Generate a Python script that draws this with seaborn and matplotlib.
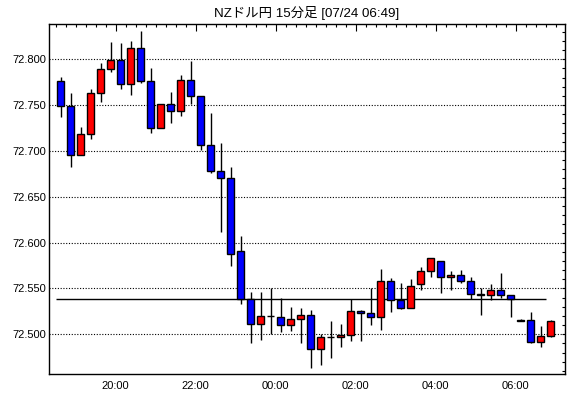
import matplotlib
matplotlib.use("Agg")
import matplotlib.pyplot as plt
import matplotlib.dates as mdates
from matplotlib.ticker import MultipleLocator, FormatStrFormatter
import seaborn as sns
import numpy as np
import pandas as pd

title = "NZドル円 15分足 [07/24 06:49]"
first_bar = "2024-07-23 18:30"
bar_minutes = 15

opens = [72.776, 72.749, 72.696, 72.719, 72.763, 72.789, 72.799, 72.773, 72.812, 72.776,
         72.725, 72.751, 72.744, 72.777, 72.760, 72.707, 72.678, 72.670, 72.591, 72.538,
         72.511, 72.520, 72.519, 72.510, 72.517, 72.521, 72.484, 72.497, 72.497, 72.499,
         72.525, 72.523, 72.519, 72.558, 72.537, 72.529, 72.555, 72.569, 72.580, 72.563,
         72.565, 72.558, 72.544, 72.543, 72.548, 72.543, 72.516, 72.516, 72.492, 72.498]
highs = [72.781, 72.763, 72.726, 72.768, 72.796, 72.819, 72.818, 72.820, 72.831, 72.791,
         72.751, 72.764, 72.783, 72.798, 72.760, 72.741, 72.709, 72.682, 72.607, 72.546,
         72.546, 72.550, 72.540, 72.530, 72.529, 72.527, 72.500, 72.515, 72.511, 72.539,
         72.527, 72.550, 72.571, 72.561, 72.556, 72.560, 72.573, 72.583, 72.580, 72.569,
         72.570, 72.563, 72.550, 72.555, 72.567, 72.543, 72.517, 72.524, 72.509, 72.516]
lows = [72.737, 72.683, 72.696, 72.713, 72.753, 72.786, 72.768, 72.761, 72.774, 72.720,
        72.725, 72.731, 72.738, 72.751, 72.701, 72.676, 72.612, 72.574, 72.533, 72.490,
        72.494, 72.500, 72.502, 72.504, 72.490, 72.463, 72.467, 72.474, 72.486, 72.493,
        72.493, 72.510, 72.505, 72.524, 72.528, 72.529, 72.548, 72.562, 72.545, 72.548,
        72.556, 72.538, 72.521, 72.537, 72.540, 72.519, 72.514, 72.490, 72.486, 72.497]
closes = [72.749, 72.696, 72.719, 72.763, 72.789, 72.799, 72.773, 72.812, 72.776, 72.725,
          72.751, 72.744, 72.777, 72.760, 72.707, 72.678, 72.670, 72.588, 72.538, 72.511,
          72.520, 72.520, 72.510, 72.517, 72.521, 72.484, 72.497, 72.497, 72.499, 72.525,
          72.523, 72.519, 72.558, 72.537, 72.529, 72.553, 72.569, 72.583, 72.563, 72.565,
          72.558, 72.544, 72.543, 72.548, 72.543, 72.538, 72.515, 72.492, 72.498, 72.514]
ref_level = 72.538
up_color = "#ff0000"
down_color = "#0000ff"

sns.set_theme(style="white")
plt.rcParams["font.family"] = ["Liberation Sans", "Noto Sans CJK JP", "DejaVu Sans"]

starts = pd.date_range(first_bar, periods=len(opens), freq=f"{bar_minutes}min")
df = pd.DataFrame({"start": starts, "open": opens, "high": highs, "low": lows, "close": closes})
df["mid"] = df["start"] + pd.Timedelta(minutes=bar_minutes / 2)
df["up"] = df["close"] >= df["open"]

fig = plt.figure(figsize=(5.70, 3.98), dpi=100)
ax = fig.add_axes([49.3 / 570, 1 - 374.3 / 398, (565 - 49.3) / 570, (374.3 - 24.3) / 398])

xm = mdates.date2num(df["mid"])
bar_w = bar_minutes / 1440 * 0.68

# grid (dotted)
for yv in np.arange(72.50, 72.801, 0.05):
    ax.axhline(yv, color="black", lw=0.8, ls=(0, (1, 1.5)), zorder=1)

# reference level
ax.hlines(ref_level, mdates.date2num(df["start"].iloc[0]), mdates.date2num(df["start"].iloc[-1]),
          color="black", lw=1.0, zorder=2)

# wicks
ax.vlines(xm, df["low"], df["high"], color="black", lw=1.0, zorder=3)
# bodies
bottoms = np.minimum(df["open"], df["close"])
heights = np.maximum(np.abs(df["close"] - df["open"]), 0.0004)
colors = np.where(df["up"], up_color, down_color)
ax.bar(xm, heights, bottom=bottoms, width=bar_w, color=colors, edgecolor="black",
       linewidth=1.0, zorder=4)

x0 = pd.Timestamp("2024-07-23 20:00") - pd.Timedelta(minutes=99.6)
x1 = pd.Timestamp("2024-07-23 20:00") + pd.Timedelta(minutes=674)
ax.set_xlim(mdates.date2num(x0), mdates.date2num(x1))
ax.set_ylim(72.4564, 72.8382)

ax.xaxis.set_major_locator(mdates.HourLocator(byhour=range(0, 24, 2)))
ax.xaxis.set_minor_locator(mdates.MinuteLocator(byminute=[0, 15, 30, 45]))
ax.xaxis.set_major_formatter(mdates.DateFormatter("%H:%M"))
ax.yaxis.set_major_locator(MultipleLocator(0.05))
ax.yaxis.set_minor_locator(MultipleLocator(0.01))
ax.yaxis.set_major_formatter(FormatStrFormatter("%.3f"))

ax.tick_params(axis="both", which="both", direction="in", top=True, right=True,
               color="black", width=0.8, labelsize=8, labelcolor="black")
ax.tick_params(axis="x", which="major", length=5, pad=5)
ax.tick_params(axis="x", which="minor", length=2.5)
ax.tick_params(axis="y", which="major", length=2.5, pad=2)
ax.tick_params(axis="y", which="minor", length=2.5)
for s in ax.spines.values():
    s.set_color("black")
    s.set_linewidth(1.0)
ax.set_facecolor("white")
ax.grid(False)

fig.text(307 / 570, 1 - 13 / 398, title, ha="center", va="center", fontsize=9.6, color="black")

fig.savefig("out.png", dpi=100, facecolor="white")
